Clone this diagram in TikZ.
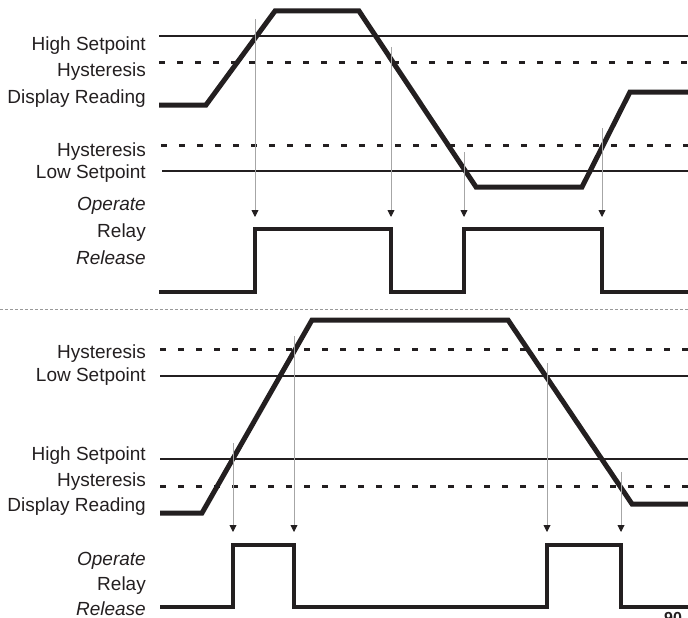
\documentclass[tikz,border=0pt]{standalone}
\usepackage{fontspec}
\setmainfont{Liberation Sans}
\usetikzlibrary{arrows.meta}
\definecolor{ink}{HTML}{231F20}
\tikzset{
  lbl/.style={anchor=base east, inner sep=0pt, text=ink, font=\fontsize{19}{21}\selectfont},
  lblit/.style={lbl, font=\fontsize{19}{21}\selectfont\itshape},
  sigline/.style={line width=5pt, draw=ink, line join=miter},
  relayline/.style={line width=4pt, draw=ink, line join=miter},
  setline/.style={line width=2pt, draw=ink},
  hystline/.style={line width=3pt, draw=ink, dash pattern=on 6pt off 12pt},
  trigline/.style={-{Triangle[length=7pt,width=7pt,color=ink]}, line width=0.9pt, draw=gray!70},
  splitline/.style={line width=1pt, draw=gray!80, dash pattern=on 3pt off 2pt}
}

\begin{document}
\begin{tikzpicture}[x=1pt, y=-1pt]
  \useasboundingbox (0,0) rectangle (688,618);

  % upper chart: high setpoint
  \node[lbl] (hiA) at (146,51) {High Setpoint};
  \node[lbl] (hyA) at (146,77) {Hysteresis};
  \node[lbl] (rdA) at (146,103) {Display Reading};
  \node[lbl] (hyB) at (146,156) {Hysteresis};
  \node[lbl] (loA) at (146,178) {Low Setpoint};
  \node[lblit] (opA) at (146,210) {Operate};
  \node[lbl] (rlA) at (146,237) {Relay};
  \node[lblit] (reA) at (146,264) {Release};

  \draw[setline] (159,36) -- (688,36);
  \draw[hystline] (159,63) -- (688,63);
  \draw[hystline] (161,145) -- (688,145);
  \draw[setline] (162,171) -- (688,171);

  \draw[sigline] (159,105) -- (206,105) -- (275,11) -- (359,11) -- (476,187)
    -- (582,187) -- (630,92) -- (688,92);

  \draw[trigline] (255,19) -- (255,217);
  \draw[trigline] (391,47) -- (391,217);
  \draw[trigline] (464,152) -- (464,217);
  \draw[trigline] (602,128) -- (602,217);

  \draw[relayline] (159,292) -- (255,292) -- (255,229) -- (391,229) -- (391,292)
    -- (464,292) -- (464,229) -- (602,229) -- (602,292) -- (688,292);

  \draw[splitline] (0,309) -- (688,309);

  % lower chart: low setpoint
  \node[lbl] (hyC) at (146,358) {Hysteresis};
  \node[lbl] (loB) at (146,381) {Low Setpoint};
  \node[lbl] (hiB) at (146,460) {High Setpoint};
  \node[lbl] (hyD) at (146,486) {Hysteresis};
  \node[lbl] (rdB) at (146,511) {Display Reading};
  \node[lblit] (opB) at (146,565) {Operate};
  \node[lbl] (rlB) at (146,590) {Relay};
  \node[lblit] (reB) at (146,615) {Release};

  \draw[hystline] (160,349) -- (688,349);
  \draw[setline] (160,376) -- (688,376);
  \draw[setline] (160,459) -- (688,459);
  \draw[hystline] (160,486) -- (688,486);

  \draw[sigline] (160,513) -- (202,513) -- (312,320) -- (508,320) -- (632,504)
    -- (688,504);

  \draw[trigline] (233,443) -- (233,532);
  \draw[trigline] (294,336) -- (294,532);
  \draw[trigline] (547,363) -- (547,532);
  \draw[trigline] (621,472) -- (621,532);

  \draw[relayline] (160,607) -- (233,607) -- (233,545) -- (294,545) -- (294,607)
    -- (547,607) -- (547,545) -- (621,545) -- (621,607) -- (688,607);

  \node[anchor=north west, inner sep=0pt, text=ink, font=\bfseries\fontsize{16}{16}\selectfont] (pgno) at (664,612) {90};
\end{tikzpicture}
\end{document}
